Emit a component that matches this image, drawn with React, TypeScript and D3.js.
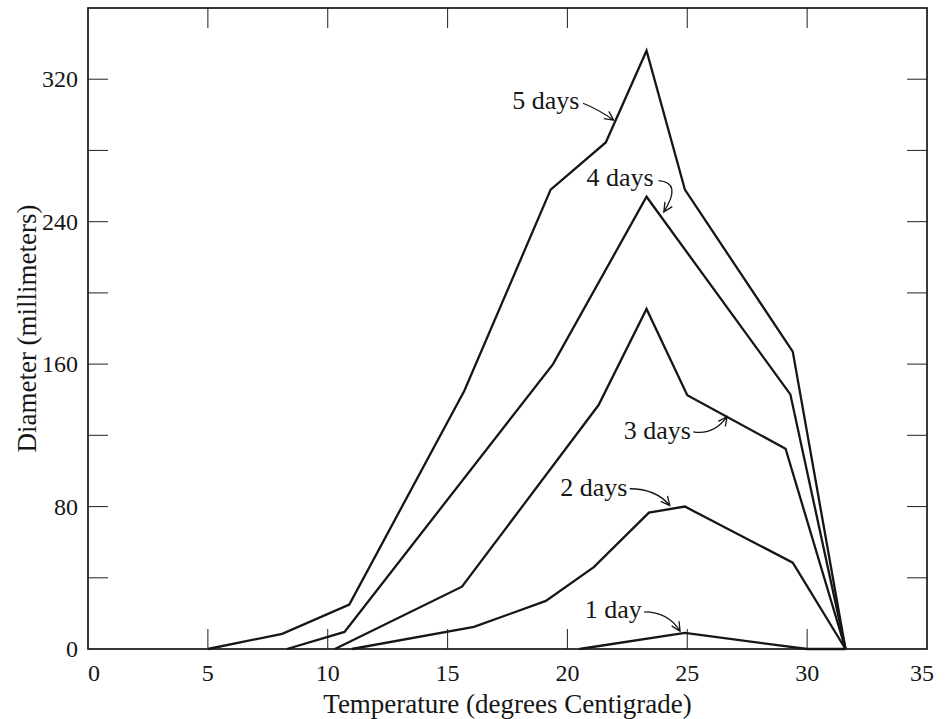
import * as React from 'react';
import * as d3 from 'd3';

// temperature (deg C) / diameter (mm) readings, one pair of arrays per curve
const temp1 = [20.5, 24.9, 30.0, 31.6];
const diam1 = [0, 9, 0, 0];

const temp2 = [11.0, 16.1, 19.1, 21.1, 23.4, 24.9, 29.4, 31.6];
const diam2 = [0, 12.4, 27, 46, 76.6, 80, 48.5, 0];

const temp3 = [10.3, 15.6, 21.3, 23.3, 25.0, 29.1, 31.6];
const diam3 = [0, 35, 137, 191, 142.5, 112.5, 0];

const temp4 = [8.3, 10.7, 19.4, 23.3, 29.3, 31.6];
const diam4 = [0, 9.6, 160, 254, 143, 0];

const temp5 = [5, 8.1, 10.9, 15.7, 19.3, 21.6, 23.3, 24.9, 29.4, 31.6];
const diam5 = [0, 8.5, 25, 145, 258, 284.5, 336, 258, 167, 0];

const seriesNames = ['1 day', '2 days', '3 days', '4 days', '5 days'];

const tempTicks = [0, 5, 10, 15, 20, 25, 30, 35];
const diamLabels = [0, 80, 160, 240, 320];
const diamMarks = [40, 80, 120, 160, 200, 240, 280, 320];

type Pt = { t: number, d: number };

const series = [
    { name: seriesNames[0], temps: temp1, diams: diam1 },
    { name: seriesNames[1], temps: temp2, diams: diam2 },
    { name: seriesNames[2], temps: temp3, diams: diam3 },
    { name: seriesNames[3], temps: temp4, diams: diam4 },
    { name: seriesNames[4], temps: temp5, diams: diam5 },
];

// label end point, and arrow start / bend / tip, in data units
const notes = [
    { text: seriesNames[0], at: [23.1, 17.5], from: [23.2, 20.8], via: [24.2, 20.8], to: [24.7, 10] },
    { text: seriesNames[1], at: [22.5, 86], from: [22.6, 90], via: [23.7, 90], to: [24.27, 80.5] },
    { text: seriesNames[2], at: [25.15, 118], from: [25.25, 122], via: [26.1, 120], to: [26.66, 130.5] },
    { text: seriesNames[3], at: [23.6, 260], from: [23.8, 263], via: [24.8, 262], to: [24.02, 245.5] },
    { text: seriesNames[4], at: [20.5, 303], from: [20.65, 306.5], via: [21.3, 303], to: [21.93, 297] },
];

const W = 948, H = 719;
const m = { left: 88, right: 21, top: 8, bottom: 70 };
const FONT = '"Liberation Serif", "Times New Roman", serif';
const INK = '#161616';

export default function App() {
    const ref = React.useRef<SVGSVGElement>(null);

    React.useEffect(() => {
        const svg = d3.select(ref.current);
        svg.selectAll('*').remove();

        const x = d3.scaleLinear().domain([0, 35]).range([m.left, W - m.right]);
        const y = d3.scaleLinear().domain([0, 360]).range([H - m.bottom, m.top]);
        const x0 = x(0), x1 = x(35), y0 = y(0), y1 = y(360);
        const tl = 20;

        // ticks, all pointing inward
        const tg = svg.append('g').attr('stroke', '#333').attr('stroke-width', 1.1);
        tempTicks.slice(1, -1).forEach(t => {
            tg.append('line').attr('x1', x(t)).attr('x2', x(t)).attr('y1', y0).attr('y2', y0 - tl);
            tg.append('line').attr('x1', x(t)).attr('x2', x(t)).attr('y1', y1).attr('y2', y1 + tl);
        });
        diamMarks.forEach(d => {
            tg.append('line').attr('x1', x0).attr('x2', x0 + tl).attr('y1', y(d)).attr('y2', y(d));
            tg.append('line').attr('x1', x1).attr('x2', x1 - tl).attr('y1', y(d)).attr('y2', y(d));
        });

        svg.append('rect')
            .attr('x', x0).attr('y', y1)
            .attr('width', x1 - x0).attr('height', y0 - y1)
            .attr('fill', 'none').attr('stroke', INK).attr('stroke-width', 1.7);

        // tick labels (end labels nudged inside the frame, as in the print)
        const nudge = (d: number) => d === 0 ? 6 : d === 35 ? -5 : 0;
        svg.append('g').selectAll('text').data(tempTicks).join('text')
            .attr('x', d => x(d) + nudge(d)).attr('y', y0 + 32)
            .attr('text-anchor', 'middle')
            .attr('font-family', FONT).attr('font-size', 24).attr('fill', INK)
            .text(d => d);
        svg.append('g').selectAll('text').data(diamLabels).join('text')
            .attr('x', x0 - 10).attr('y', d => y(d)).attr('dy', '0.34em')
            .attr('text-anchor', 'end')
            .attr('font-family', FONT).attr('font-size', 24).attr('fill', INK)
            .text(d => d);

        // axis titles
        svg.append('text')
            .attr('x', (x0 + x1) / 2).attr('y', H - 6)
            .attr('text-anchor', 'middle')
            .attr('font-family', FONT).attr('font-size', 27).attr('fill', INK)
            .text('Temperature (degrees Centigrade)');
        svg.append('text')
            .attr('transform', `translate(36, ${(y0 + y1) / 2}) rotate(-90)`)
            .attr('text-anchor', 'middle')
            .attr('font-family', FONT).attr('font-size', 27).attr('fill', INK)
            .text('Diameter (millimeters)');

        // curves
        const line = d3.line<Pt>().x(p => x(p.t)).y(p => y(p.d));
        series.forEach(s => {
            const pts: Pt[] = s.temps.map((t, i) => ({ t, d: s.diams[i] }));
            svg.append('path')
                .attr('d', line(pts)!)
                .attr('fill', 'none')
                .attr('stroke', INK)
                .attr('stroke-width', 2.3)
                .attr('stroke-linejoin', 'miter');
        });

        // labels with little curved arrows
        notes.forEach(n => {
            svg.append('text')
                .attr('x', x(n.at[0])).attr('y', y(n.at[1]))
                .attr('text-anchor', 'end')
                .attr('font-family', FONT).attr('font-size', 26).attr('fill', INK)
                .text(n.text);

            const [sx, sy] = [x(n.from[0]), y(n.from[1])];
            const [cx, cy] = [x(n.via[0]), y(n.via[1])];
            const [ex, ey] = [x(n.to[0]), y(n.to[1])];
            const p = d3.path();
            p.moveTo(sx, sy);
            p.quadraticCurveTo(cx, cy, ex, ey);
            const ang = Math.atan2(ey - cy, ex - cx);
            const hl = 10, spread = 0.45;
            p.moveTo(ex - hl * Math.cos(ang - spread), ey - hl * Math.sin(ang - spread));
            p.lineTo(ex, ey);
            p.lineTo(ex - hl * Math.cos(ang + spread), ey - hl * Math.sin(ang + spread));
            svg.append('path')
                .attr('d', p.toString())
                .attr('fill', 'none')
                .attr('stroke', INK)
                .attr('stroke-width', 1.3);
        });
    }, []);

    return (
        <svg ref={ref} width={W} height={H} style={{ position: 'absolute', left: 0, top: 0, background: '#fff' }}>
        </svg>
    );
}
